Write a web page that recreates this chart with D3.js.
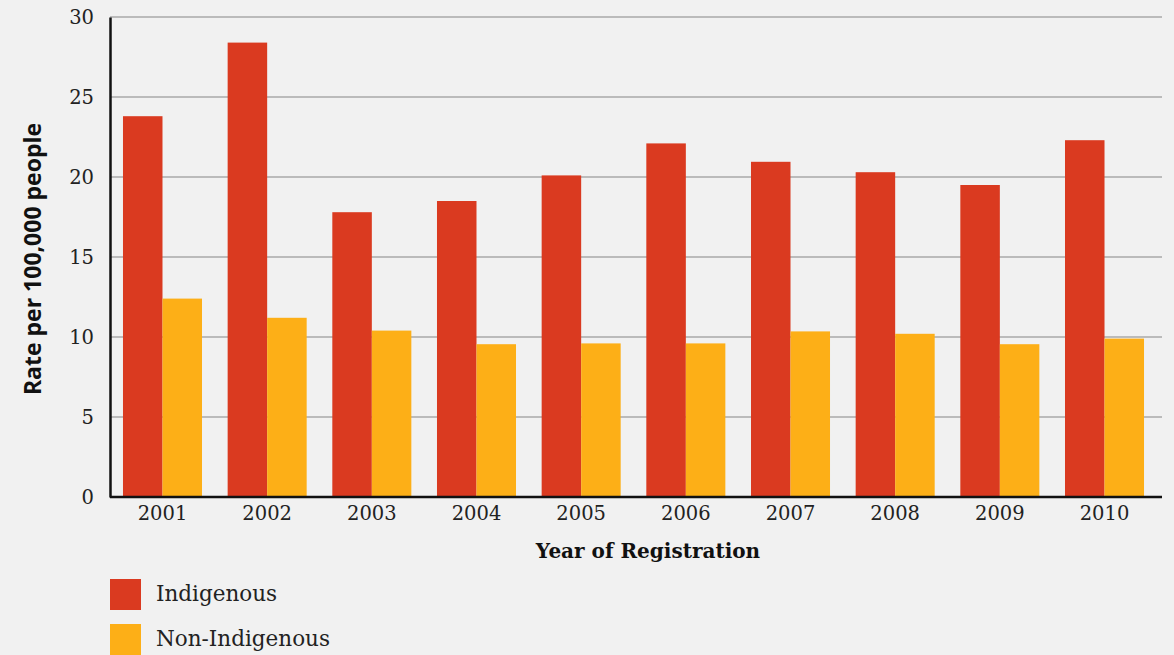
<!DOCTYPE html>
<html>
<head>
<meta charset="utf-8">
<script src="https://cdn.jsdelivr.net/npm/d3@7"></script>
<style>
  body { margin: 0; background: #f1f1f1; }
  svg { display: block; }
</style>
</head>
<body>
<div id="chart"></div>
<script>
// years of registration, rates per 100,000 people
const years = ["2001", "2002", "2003", "2004", "2005", "2006", "2007", "2008", "2009", "2010"];
const indigenous = [23.8, 28.4, 17.8, 18.5, 20.1, 22.1, 20.95, 20.3, 19.5, 22.3];
const nonIndigenous = [12.4, 11.2, 10.4, 9.55, 9.6, 9.6, 10.35, 10.2, 9.55, 9.9];
const seriesNames = ["Indigenous", "Non-Indigenous"];
const colors = ["#da3a20", "#fdaf17"];
const yTicks = [0, 5, 10, 15, 20, 25, 30];

const width = 1174;
const height = 655;
const margin = { top: 17, right: 12, bottom: 158, left: 110 };

const svg = d3.select("#chart")
    .append("svg")
    .attr("width", width)
    .attr("height", height);

svg.append("rect")
    .attr("width", width)
    .attr("height", height)
    .attr("fill", "#f1f1f1");

// bands stop a little short of the right edge of the plot
const xScale = d3.scaleBand()
    .domain(years)
    .range([margin.left, width - margin.right - 5])
    .paddingInner(0.245)
    .paddingOuter(0.124);

const subScale = d3.scaleBand()
    .domain(seriesNames)
    .range([0, xScale.bandwidth()]);

const yScale = d3.scaleLinear()
    .domain([0, 30])
    .range([height - margin.bottom, margin.top]);

const serif = "'DejaVu Serif', serif";

// grid lines
svg.selectAll("line.grid")
    .data(yTicks.filter(d => d > 0))
    .enter()
    .append("line")
    .attr("class", "grid")
    .attr("x1", margin.left)
    .attr("x2", width - margin.right)
    .attr("y1", d => yScale(d))
    .attr("y2", d => yScale(d))
    .attr("stroke", "#a9a9a9")
    .attr("stroke-width", 1.6);

// bars
const rows = years.map((y, i) => ({ year: y, values: [indigenous[i], nonIndigenous[i]] }));

const groups = svg.selectAll("g.year")
    .data(rows)
    .enter()
    .append("g")
    .attr("class", "year")
    .attr("transform", d => `translate(${xScale(d.year)},0)`);

groups.selectAll("rect")
    .data(d => d.values.map((v, j) => ({ name: seriesNames[j], value: v, color: colors[j] })))
    .enter()
    .append("rect")
    .attr("x", d => subScale(d.name))
    .attr("width", subScale.bandwidth())
    .attr("y", d => yScale(d.value))
    .attr("height", d => yScale(0) - yScale(d.value))
    .attr("fill", d => d.color);

// x-axis
const xAxis = svg.append("g")
    .attr("transform", `translate(0,${yScale(0)})`)
    .call(d3.axisBottom(xScale).tickSize(0).tickPadding(9));
xAxis.select(".domain").attr("stroke", "#111").attr("stroke-width", 2.5)
    .attr("d", `M${margin.left},0H${width - margin.right}`);
xAxis.selectAll("text")
    .attr("font-family", serif)
    .attr("font-size", "19.5px")
    .attr("fill", "#222");

// y-axis
const yAxis = svg.append("g")
    .attr("transform", `translate(${margin.left},0)`)
    .call(d3.axisLeft(yScale).tickValues(yTicks).tickSize(0).tickPadding(16));
yAxis.select(".domain").attr("stroke", "#111").attr("stroke-width", 2.5);
yAxis.selectAll("text")
    .attr("font-family", serif)
    .attr("font-size", "19.5px")
    .attr("fill", "#222");

// axis titles
svg.append("text")
    .attr("x", 648)
    .attr("y", 558)
    .attr("text-anchor", "middle")
    .attr("font-family", serif)
    .attr("font-weight", "bold")
    .attr("font-size", "20px")
    .attr("fill", "#111")
    .text("Year of Registration");

svg.append("text")
    .attr("transform", `translate(41,${yScale(15) + 2}) rotate(-90)`)
    .attr("text-anchor", "middle")
    .attr("font-family", "'Open Sans', sans-serif")
    .attr("font-weight", "bold")
    .attr("font-size", "23px")
    .attr("fill", "#111")
    .text("Rate per 100,000 people");

// legend
const legend = svg.selectAll("g.legend")
    .data(seriesNames)
    .enter()
    .append("g")
    .attr("class", "legend")
    .attr("transform", (d, i) => `translate(${margin.left},${579 + i * 45})`);

legend.append("rect")
    .attr("width", 31)
    .attr("height", 31)
    .attr("fill", (d, i) => colors[i]);

legend.append("text")
    .attr("x", 46)
    .attr("y", 22)
    .attr("font-family", serif)
    .attr("font-size", "21.5px")
    .attr("fill", "#222")
    .text(d => d);
</script>
</body>
</html>
